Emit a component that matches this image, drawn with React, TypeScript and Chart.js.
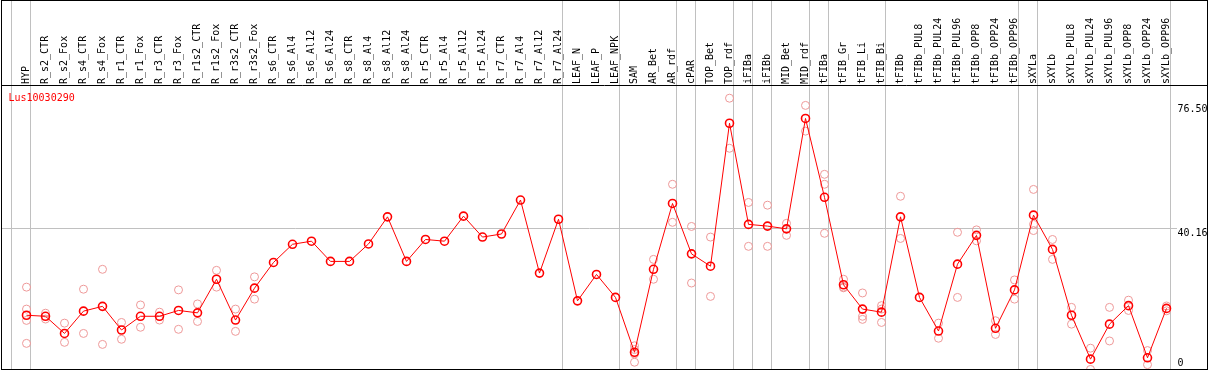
import React, { useEffect, useRef } from "react";
import { Chart, registerables } from "chart.js";

Chart.register(...registerables);

const title = "Lus10030290";

const categories = [
  "HYP", "R_s2_CTR", "R_s2_Fox", "R_s4_CTR", "R_s4_Fox", "R_r1_CTR", "R_r1_Fox", "R_r3_CTR", "R_r3_Fox",
  "R_r1s2_CTR", "R_r1s2_Fox", "R_r3s2_CTR", "R_r3s2_Fox", "R_s6_CTR", "R_s6_Al4", "R_s6_Al12", "R_s6_Al24",
  "R_s8_CTR", "R_s8_Al4", "R_s8_Al12", "R_s8_Al24", "R_r5_CTR", "R_r5_Al4", "R_r5_Al12", "R_r5_Al24",
  "R_r7_CTR", "R_r7_Al4", "R_r7_Al12", "R_r7_Al24", "LEAF_N", "LEAF_P", "LEAF_NPK", "SAM", "AR_Bet", "AR_rdf",
  "cPAR", "TOP_Bet", "TOP_rdf", "iFIBa", "iFIBb", "MID_Bet", "MID_rdf", "tFIBa", "tFIB_Gr", "tFIB_Li", "tFIB_Bi",
  "tFIBb", "tFIBb_PUL8", "tFIBb_PUL24", "tFIBb_PUL96", "tFIBb_OPP8", "tFIBb_OPP24", "tFIBb_OPP96",
  "sXYLa", "sXYLb", "sXYLb_PUL8", "sXYLb_PUL24", "sXYLb_PUL96", "sXYLb_OPP8", "sXYLb_OPP24", "sXYLb_OPP96",
];

const means = [
  14.8, 14.5, 9.5, 16.0, 17.4, 10.5, 14.5, 14.5, 16.2, 15.5,
  25.3, 13.4, 22.7, 30.2, 35.5, 36.4, 30.5, 30.5, 35.6, 43.5,
  30.5, 36.9, 36.4, 43.7, 37.6, 38.5, 48.4, 27.1, 42.8, 19.0,
  26.7, 20.0, 4.0, 28.2, 47.4, 32.7, 29.1, 70.8, 41.3, 40.8,
  40.0, 72.2, 49.2, 23.7, 16.6, 15.7, 43.5, 20.0, 10.2, 29.7,
  38.1, 11.0, 22.2, 44.0, 34.0, 14.8, 2.0, 12.2, 17.6, 2.4, 16.8,
];

// replicate values per category (same order as categories)
const replicates: number[][] = [
  [23.0, 16.6, 13.3, 6.6], [15.4, 13.7], [12.5, 6.9], [22.4, 9.5], [28.2, 6.3],
  [12.7, 7.8], [17.8, 11.3], [15.7, 13.4], [22.2, 10.7], [18.1, 13.0],
  [27.9, 23.0], [16.6, 10.1], [26.0, 19.5], [], [],
  [], [], [], [], [],
  [], [], [], [], [],
  [], [], [], [], [],
  [], [], [5.9, 4.8, 3.5, 1.1], [31.1, 25.3], [53.0, 41.9],
  [40.7, 24.2], [37.6, 20.3], [78.1, 63.5], [47.7, 34.9], [46.9, 34.9],
  [41.6, 38.1], [76.0, 68.5], [55.9, 53.0, 38.7], [25.3, 23.0, 22.8], [21.3, 14.5, 13.6],
  [17.6, 16.6, 12.7], [49.5, 37.2], [], [12.5, 8.1], [39.0, 20.0],
  [39.7, 36.5], [13.2, 9.2], [25.1, 19.5], [51.5, 41.3, 39.5], [36.9, 31.1],
  [17.1, 12.2], [5.2, -1.0], [17.1, 7.3], [19.2, 16.2], [4.5, 0.4], [17.5, 16.1],
];

// index of the last category of each group (-1 = before the first)
const groupEnds = [-1, 0, 28, 31, 34, 35, 37, 38, 39, 41, 42, 45, 52, 53, 60];

const yTickValues = [76.5, 40.16, 0];
const yTickLabels = ["76.50", "40.16", "0"];
const yGridValues = [40.16];

export default function App() {
  const ref = useRef<HTMLCanvasElement | null>(null);

  useEffect(() => {
    document.body.style.margin = "0";
    const canvas = ref.current;
    if (!canvas) return;

    const overlay = {
      id: "overlay",
      afterDraw(chart: any) {
        const { ctx, chartArea } = chart;
        const xs = chart.scales.x;
        const ys = chart.scales.y;
        const W = chart.width;
        const H = chart.height;
        ctx.save();
        ctx.strokeStyle = "#000";
        ctx.lineWidth = 1;
        ctx.strokeRect(1.5, 0.5, W - 3, H - 1);
        ctx.beginPath();
        ctx.moveTo(1, chartArea.top + 0.5);
        ctx.lineTo(W - 1, chartArea.top + 0.5);
        ctx.stroke();

        ctx.font = '10px "DejaVu Sans Mono"';
        ctx.fillStyle = "#000";
        ctx.textAlign = "left";
        ctx.textBaseline = "alphabetic";
        categories.forEach((c, i) => {
          const px = Math.round(xs.getPixelForValue(i));
          ctx.save();
          ctx.translate(px + 2, chartArea.top - 1);
          ctx.rotate(-Math.PI / 2);
          ctx.fillText(c, 0, 0);
          ctx.restore();
        });

        ctx.fillStyle = "#ff0000";
        ctx.fillText(title, 8.5, chartArea.top + 16);

        ctx.fillStyle = "#000";
        yTickValues.forEach((v, k) => {
          const p = ys.getPixelForValue(v);
          ctx.fillText(yTickLabels[k], chartArea.right + 0.5, Math.min(Math.round(p) + 8, H - 4));
        });
        ctx.restore();
      },
    };

    const repPoints = replicates.flatMap((r, i) => r.map((v) => ({ x: i, y: v })));

    const chart = new Chart(canvas, {
      type: "scatter",
      data: {
        datasets: [
          {
            type: "line",
            data: means.map((v, i) => ({ x: i, y: v })),
            borderColor: "#ff0000",
            backgroundColor: "rgba(0,0,0,0)",
            borderWidth: 1,
            pointStyle: "circle",
            pointRadius: 4,
            pointBorderWidth: 1.6,
            pointBorderColor: "#ff0000",
            pointBackgroundColor: "rgba(0,0,0,0)",
            tension: 0,
            order: 0,
          } as any,
          {
            type: "scatter",
            data: repPoints,
            pointStyle: "circle",
            pointRadius: 4,
            pointBorderWidth: 1,
            pointBorderColor: "#ee9999",
            pointBackgroundColor: "rgba(0,0,0,0)",
            order: 1,
          } as any,
        ],
      },
      options: {
        animation: false,
        responsive: true,
        maintainAspectRatio: false,
        layout: { autoPadding: false, padding: { left: 2, right: 0, top: 0, bottom: 1 } },
        plugins: { legend: { display: false }, tooltip: { enabled: false } },
        scales: {
          x: {
            type: "linear",
            position: "top",
            min: -1.2895,
            max: 60.5526,
            afterBuildTicks: (axis: any) => {
              axis.ticks = groupEnds.map((g) => ({ value: g + 0.22 }));
            },
            afterFit: (axis: any) => {
              axis.height = 85;
            },
            ticks: { display: false },
            grid: { color: "#c0c0c0", lineWidth: 1, drawTicks: true, tickLength: 85 },
            border: { display: false },
          },
          y: {
            type: "linear",
            position: "right",
            min: -0.875,
            max: 81.95,
            afterBuildTicks: (axis: any) => {
              axis.ticks = yGridValues.map((v) => ({ value: v }));
            },
            afterFit: (axis: any) => {
              axis.width = 32;
            },
            ticks: { display: false },
            grid: { color: "#c0c0c0", lineWidth: 1, drawTicks: false },
            border: { display: false },
          },
        },
      } as any,
      plugins: [overlay],
    });

    return () => chart.destroy();
  }, []);

  return (
    <div style={{ position: "relative", width: 1209, height: 370 }}>
      <canvas ref={ref} />
    </div>
  );
}
